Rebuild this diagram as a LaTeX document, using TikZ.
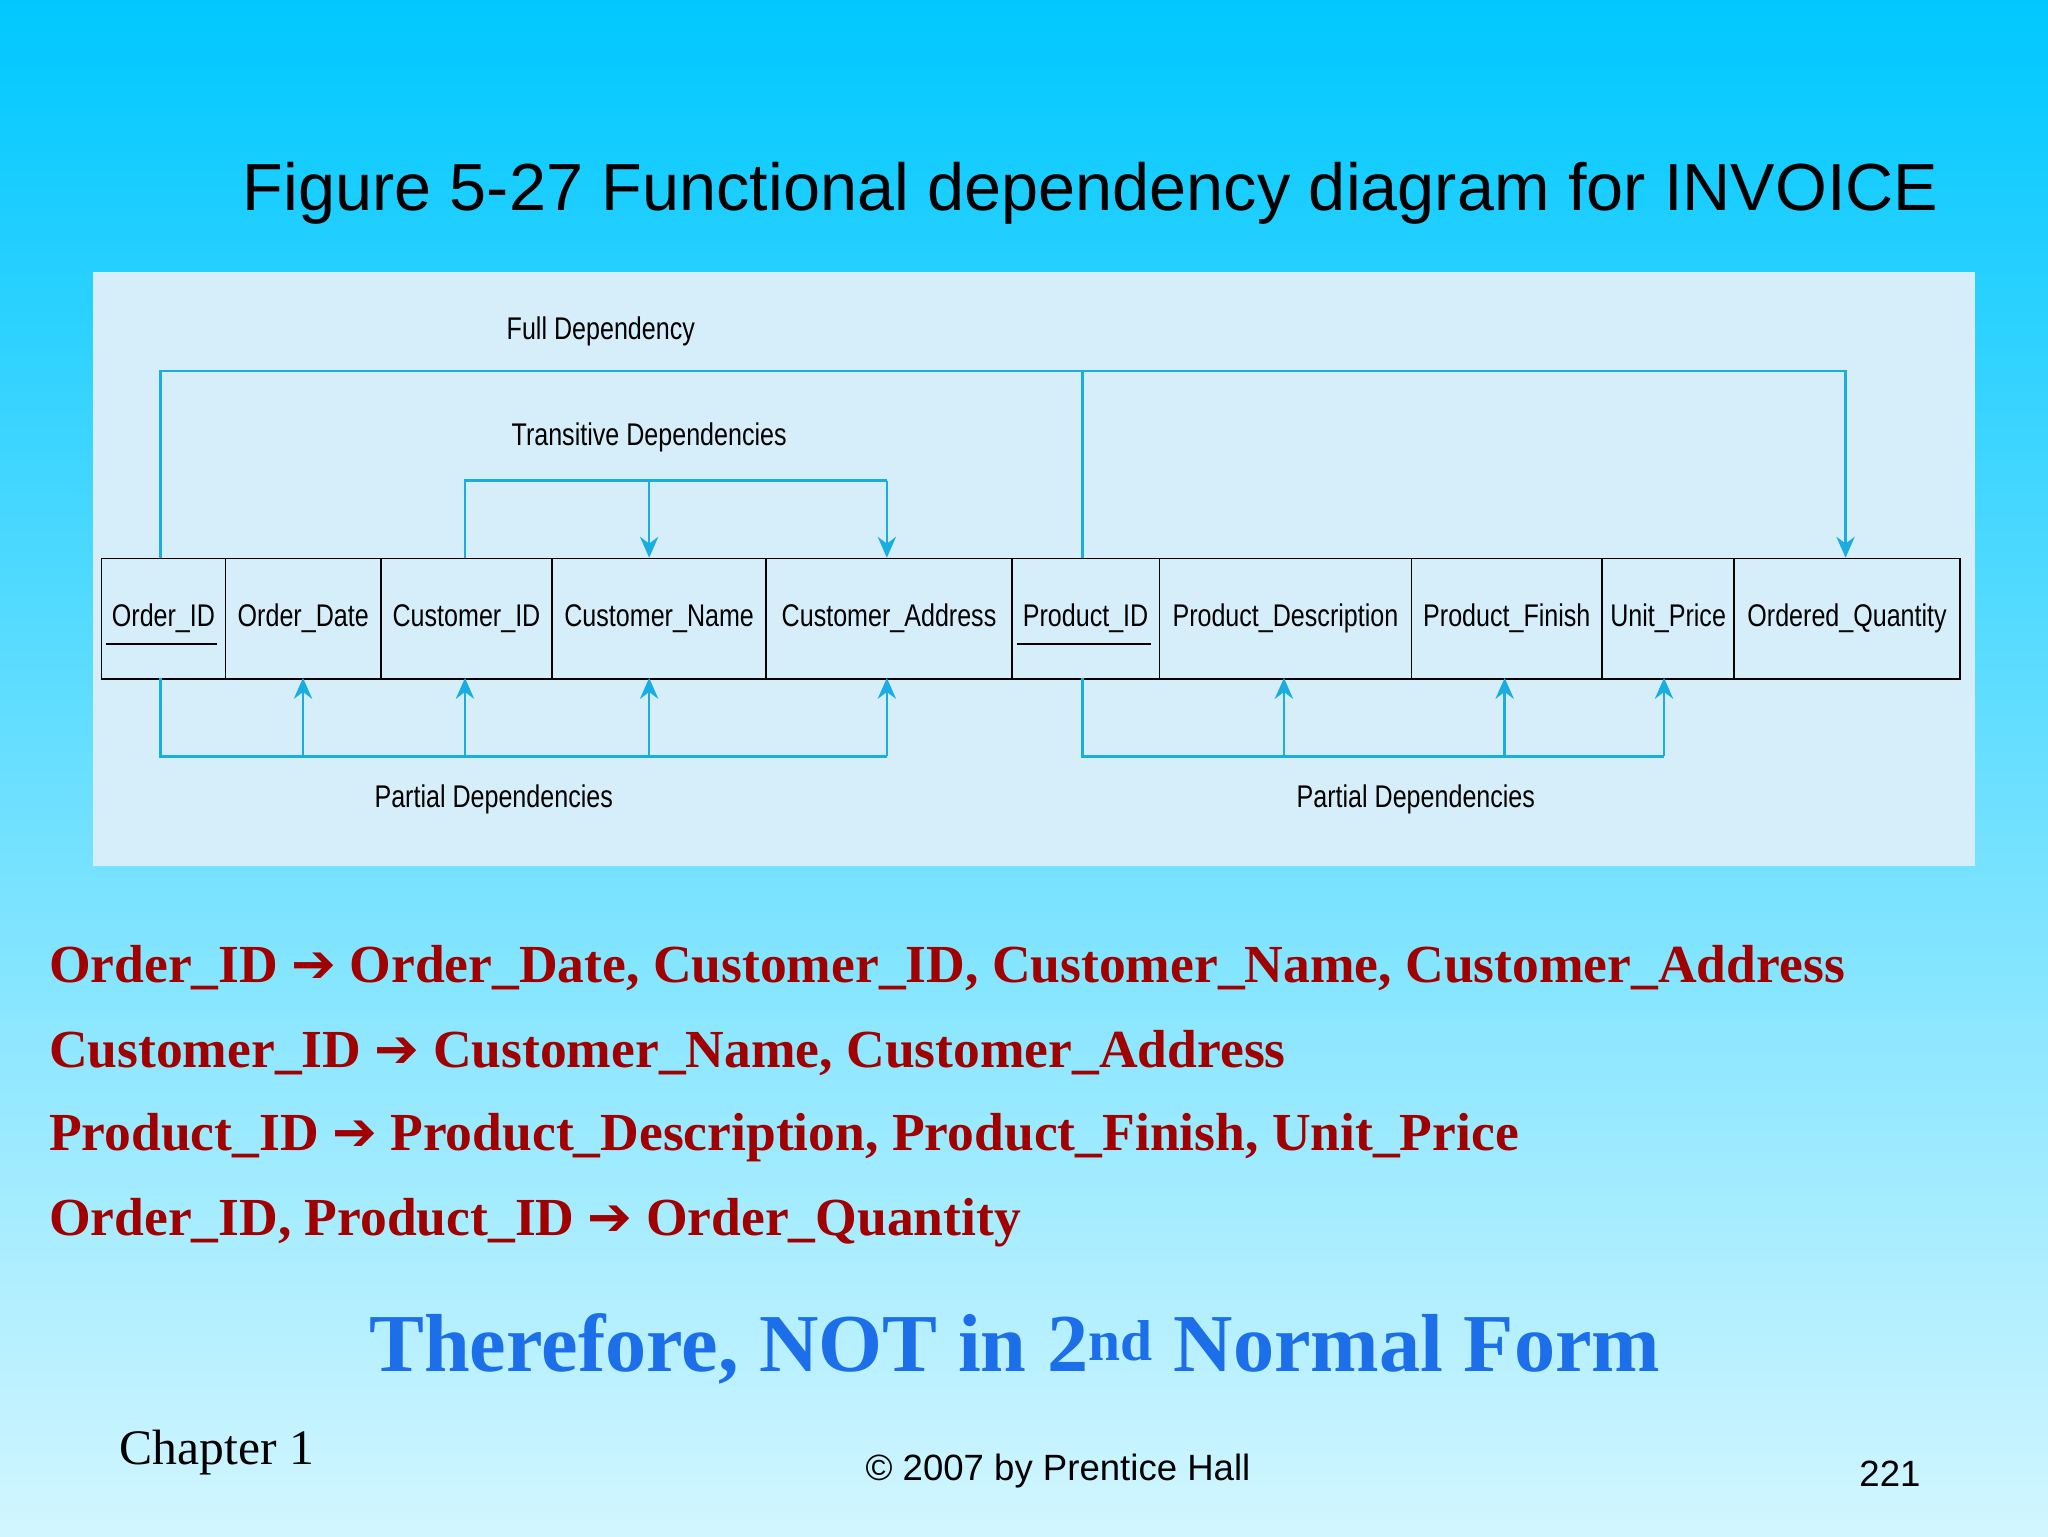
\documentclass[tikz,border=0pt]{standalone}
\usepackage{fontspec}
\setmainfont{Liberation Serif}
\setsansfont{Liberation Sans}
\newfontfamily\djv{DejaVu Sans}
\usetikzlibrary{arrows.meta}
\definecolor{ln}{HTML}{1AAEE0}
\definecolor{dred}{HTML}{A00000}
\definecolor{tblue}{HTML}{1C6FE8}
\tikzset{
 cell/.style={draw=black,line width=1.3pt,minimum height=92pt,inner sep=0pt,anchor=north west,font=\sffamily\fontsize{24}{26}\selectfont},
 dep/.style={draw=ln,line width=2pt},
 arr/.style={dep,-{Stealth[length=16pt,width=14pt]}},
 lab/.style={font=\sffamily\fontsize{24}{26}\selectfont},
 fd/.style={anchor=west,text=dred,font=\bfseries\fontsize{41}{44}\selectfont},
}
\newcommand{\nar}[1]{\scalebox{0.8}[1]{#1}}
\newcommand{\arw}{{\djv\bfseries ➔}}
\begin{document}
\begin{tikzpicture}[x=1pt,y=-1pt]
\shade[top color={rgb,255:red,0;green,200;blue,255},bottom color={rgb,255:red,210;green,246;blue,255}] (0,0) rectangle (1568,1176);
\useasboundingbox (0,0) rectangle (1568,1176);
\node[font=\sffamily\fontsize{51}{54}\selectfont] (title) at (835,148) {Figure 5-27 Functional dependency diagram for INVOICE};
\fill[fill={rgb,255:red,214;green,238;blue,250}] (71,208) rectangle (1512,663);
% cells
\foreach \n/\a/\b/\t in {c1/77/172/Order\_ID, c2/172/291/Order\_Date, c3/291/422/Customer\_ID, c4/422/586/Customer\_Name, c5/586/774/Customer\_Address, c6/774/887/Product\_ID, c7/887/1080/Product\_Description, c8/1080/1226/Product\_Finish, c9/1226/1327/Unit\_Price, c10/1327/1500/Ordered\_Quantity}{
 \pgfmathsetmacro\w{\b-\a}
 \node[cell,minimum width=\w pt] (\n) at (\a,427) {\nar{\t}};
}
\draw[line width=2pt] (81,493) -- (166,493);
\draw[line width=2pt] (779,493) -- (881,493);
% full dependency
\coordinate (f1) at (123,284); \coordinate (f2) at (1413,284);
\draw[arr] (c1.north -| 123,0) -- (f1) -- (f2) -- (1413,427);
\draw[dep] (829,427) -- (829,284);
% transitive
\draw[dep] (356,427) -- (356,368) -- (679,368);
\draw[arr] (497,368) -- (497,427);
\draw[arr] (679,368) -- (679,427);
% partial left
\draw[dep] (123,519) -- (123,579) -- (679,579);
\foreach \x in {232,356,497,679} \draw[arr] (\x,579) -- (\x,519);
% partial right
\draw[dep] (829,519) -- (829,579) -- (1274,579);
\foreach \x in {983,1152,1274} \draw[arr] (\x,579) -- (\x,519);
\node[lab] (l1) at (460,254) {\nar{Full Dependency}};
\node[lab] (l2) at (497,335) {\nar{Transitive Dependencies}};
\node[lab] (l3) at (378,612) {\nar{Partial Dependencies}};
\node[lab] (l4) at (1084,612) {\nar{Partial Dependencies}};
% FDs
\node[fd] (d1) at (34,741) {Order\_ID \arw{} Order\_Date, Customer\_ID, Customer\_Name, Customer\_Address};
\node[fd] (d2) at (34,806) {Customer\_ID \arw{} Customer\_Name, Customer\_Address};
\node[fd] (d3) at (34,871) {Product\_ID \arw{} Product\_Description, Product\_Finish, Unit\_Price};
\node[fd] (d4) at (34,936) {Order\_ID, Product\_ID \arw{} Order\_Quantity};
\node[text=tblue,font=\bfseries\fontsize{63}{66}\selectfont] (t) at (777,1033) {Therefore, NOT in 2\textsuperscript{nd} Normal Form};
\node[anchor=west,font=\fontsize{38}{40}\selectfont] (ch) at (88,1112) {Chapter 1};
\node[font=\sffamily\fontsize{28}{30}\selectfont] (cp) at (810,1126) {© 2007 by Prentice Hall};
\node[font=\sffamily\fontsize{28}{30}\selectfont] (pg) at (1447,1128) {221};
\end{tikzpicture}
\end{document}
